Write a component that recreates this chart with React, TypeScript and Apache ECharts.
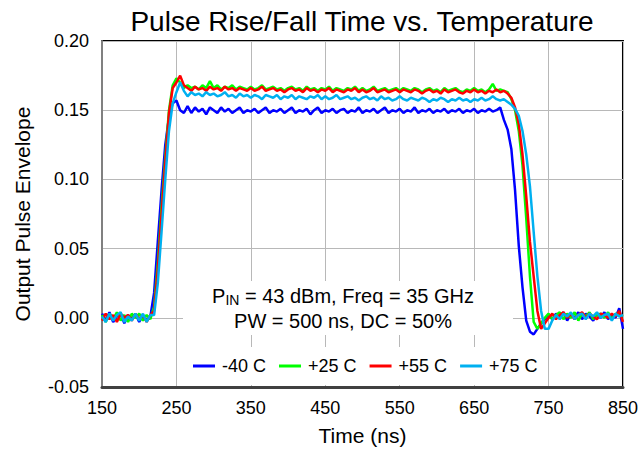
import React, { useEffect, useRef } from "react";
import * as echarts from "echarts";

const TIME = [
  150, 155, 160, 165, 170, 175, 180, 185, 190, 195,
  200, 205, 210, 215, 220, 225, 230, 235, 240, 245,
  250, 255, 260, 265, 270, 275, 280, 285, 290, 295,
  300, 305, 310, 315, 320, 325, 330, 335, 340, 345,
  350, 355, 360, 365, 370, 375, 380, 385, 390, 395,
  400, 405, 410, 415, 420, 425, 430, 435, 440, 445,
  450, 455, 460, 465, 470, 475, 480, 485, 490, 495,
  500, 505, 510, 515, 520, 525, 530, 535, 540, 545,
  550, 555, 560, 565, 570, 575, 580, 585, 590, 595,
  600, 605, 610, 615, 620, 625, 630, 635, 640, 645,
  650, 655, 660, 665, 670, 675, 680, 685, 690, 695,
  700, 705, 710, 715, 720, 725, 730, 735, 740, 745,
  750, 755, 760, 765, 770, 775, 780, 785, 790, 795,
  800, 805, 810, 815, 820, 825, 830, 835, 840, 845,
  850,
];

const M40C = [
  0.003, -0.002, 0.004, -0.003, 0.001, 0.003, -0.004, 0.002, -0.001, 0.003,
  -0.003, 0.002, -0.002, 0.001, 0.018, 0.055, 0.092, 0.125, 0.145, 0.155,
  0.157, 0.150, 0.148, 0.153, 0.148, 0.152, 0.149, 0.151, 0.147, 0.152,
  0.150, 0.148, 0.152, 0.149, 0.151, 0.148, 0.150, 0.152, 0.148, 0.150,
  0.149, 0.151, 0.148, 0.150, 0.152, 0.148, 0.150, 0.149, 0.151, 0.148,
  0.150, 0.152, 0.148, 0.150, 0.149, 0.151, 0.147, 0.150, 0.152, 0.148,
  0.150, 0.149, 0.151, 0.148, 0.150, 0.151, 0.148, 0.150, 0.149, 0.152,
  0.148, 0.150, 0.149, 0.151, 0.148, 0.150, 0.152, 0.148, 0.150, 0.149,
  0.151, 0.148, 0.150, 0.149, 0.152, 0.148, 0.150, 0.149, 0.151, 0.148,
  0.150, 0.149, 0.151, 0.148, 0.150, 0.149, 0.151, 0.148, 0.150, 0.149,
  0.151, 0.148, 0.150, 0.149, 0.151, 0.149, 0.150, 0.152, 0.143, 0.136,
  0.122, 0.092, 0.052, 0.022, -0.002, -0.010, -0.012, -0.008, -0.004, -0.001,
  0.002, -0.001, 0.003, 0.000, 0.004, -0.002, 0.003, 0.000, 0.004, -0.001,
  0.003, 0.001, -0.002, 0.003, 0.000, 0.004, -0.001, 0.002, 0.000, 0.007,
  -0.008,
];

const P25C = [
  0.002, -0.003, 0.003, -0.001, 0.004, -0.002, 0.002, -0.003, 0.003, 0.000,
  0.003, -0.002, 0.002, -0.001, 0.008, 0.040, 0.080, 0.116, 0.150, 0.168,
  0.173, 0.170, 0.166, 0.168, 0.166, 0.167, 0.165, 0.168, 0.166, 0.171,
  0.166, 0.168, 0.165, 0.167, 0.166, 0.168, 0.165, 0.167, 0.166, 0.165,
  0.167, 0.165, 0.166, 0.168, 0.165, 0.166, 0.167, 0.165, 0.166, 0.164,
  0.166, 0.167, 0.165, 0.166, 0.164, 0.167, 0.165, 0.166, 0.164, 0.166,
  0.165, 0.167, 0.164, 0.166, 0.165, 0.164, 0.166, 0.165, 0.167, 0.164,
  0.166, 0.164, 0.165, 0.167, 0.164, 0.165, 0.166, 0.164, 0.165, 0.166,
  0.164, 0.166, 0.165, 0.164, 0.166, 0.165, 0.163, 0.165, 0.166, 0.164,
  0.165, 0.163, 0.166, 0.164, 0.165, 0.166, 0.164, 0.163, 0.165, 0.164,
  0.166, 0.164, 0.165, 0.163, 0.165, 0.169, 0.164, 0.165, 0.164, 0.163,
  0.158, 0.150, 0.135, 0.110, 0.072, 0.030, -0.003, -0.008, -0.004, 0.000,
  0.003, -0.001, 0.002, 0.004, -0.001, 0.003, 0.000, 0.004, -0.002, 0.003,
  0.001, 0.004, -0.001, 0.002, 0.003, 0.000, 0.004, -0.001, 0.003, 0.002,
  0.001,
];

const P55C = [
  -0.002, 0.003, -0.001, 0.002, -0.003, 0.003, 0.000, 0.002, -0.002, 0.003,
  -0.001, 0.002, -0.003, 0.002, 0.005, 0.035, 0.075, 0.112, 0.148, 0.166,
  0.170, 0.175, 0.168, 0.166, 0.164, 0.167, 0.165, 0.166, 0.164, 0.167,
  0.165, 0.166, 0.164, 0.167, 0.165, 0.166, 0.164, 0.166, 0.165, 0.164,
  0.166, 0.164, 0.165, 0.167, 0.164, 0.165, 0.166, 0.164, 0.165, 0.163,
  0.165, 0.166, 0.164, 0.165, 0.163, 0.166, 0.164, 0.165, 0.163, 0.165,
  0.164, 0.166, 0.163, 0.165, 0.164, 0.163, 0.165, 0.164, 0.166, 0.163,
  0.165, 0.163, 0.164, 0.166, 0.163, 0.164, 0.165, 0.163, 0.164, 0.165,
  0.163, 0.165, 0.164, 0.163, 0.165, 0.164, 0.162, 0.164, 0.165, 0.163,
  0.164, 0.162, 0.165, 0.163, 0.164, 0.165, 0.163, 0.162, 0.164, 0.163,
  0.165, 0.163, 0.164, 0.162, 0.164, 0.163, 0.165, 0.163, 0.164, 0.162,
  0.159, 0.152, 0.140, 0.118, 0.088, 0.055, 0.030, 0.005, -0.008, -0.004,
  0.000, 0.003, -0.001, 0.002, 0.004, 0.000, 0.003, -0.001, 0.002, 0.004,
  0.000, 0.003, 0.001, -0.001, 0.003, 0.002, 0.000, 0.003, 0.001, 0.005,
  -0.003,
];

const P75C = [
  0.001, -0.003, 0.003, -0.002, 0.002, 0.004, -0.003, 0.001, -0.002, 0.003,
  -0.002, 0.003, -0.003, 0.002, 0.002, 0.025, 0.062, 0.100, 0.135, 0.155,
  0.163, 0.170, 0.164, 0.160, 0.163, 0.161, 0.162, 0.160, 0.163, 0.161,
  0.162, 0.160, 0.161, 0.163, 0.160, 0.161, 0.159, 0.162, 0.160, 0.161,
  0.159, 0.161, 0.160, 0.158, 0.161, 0.160, 0.159, 0.161, 0.158, 0.160,
  0.159, 0.161, 0.158, 0.160, 0.159, 0.158, 0.160, 0.159, 0.161, 0.158,
  0.160, 0.158, 0.159, 0.161, 0.158, 0.159, 0.160, 0.158, 0.159, 0.157,
  0.159, 0.160, 0.158, 0.159, 0.157, 0.160, 0.158, 0.159, 0.157, 0.158,
  0.160, 0.158, 0.157, 0.159, 0.158, 0.157, 0.159, 0.158, 0.156, 0.158,
  0.157, 0.159, 0.158, 0.156, 0.158, 0.157, 0.159, 0.157, 0.158, 0.156,
  0.158, 0.157, 0.159, 0.157, 0.158, 0.160, 0.158, 0.157, 0.158, 0.156,
  0.154, 0.151, 0.146, 0.135, 0.118, 0.095, 0.062, 0.030, 0.005, -0.008,
  -0.008, -0.002, 0.002, -0.001, 0.003, 0.001, 0.004, -0.001, 0.002, 0.003,
  -0.001, 0.003, 0.001, 0.004, 0.000, 0.002, 0.003, -0.002, 0.003, 0.001,
  0.002,
];

const SERIES_NAMES = ["-40 C", "+25 C", "+55 C", "+75 C"];
const SERIES_VALUES = [M40C, P25C, P55C, P75C];
const SERIES_COLORS = ["#0000FF", "#00FF00", "#FF0000", "#00B0F0"];

const TITLE = "Pulse Rise/Fall Time vs. Temperature";
const X_NAME = "Time (ns)";
const Y_NAME = "Output Pulse Envelope";

const FONT = "'Liberation Sans', Arial, Helvetica, sans-serif";

export default function App() {
  const ref = useRef<HTMLDivElement>(null);

  useEffect(() => {
    if (!ref.current) return;
    const chart = echarts.init(ref.current, null, { renderer: "svg" });

    const series = SERIES_NAMES.map((name, k) => ({
      name,
      type: "line",
      data: TIME.map((t, i) => [t, SERIES_VALUES[k][i]]),
      showSymbol: false,
      symbol: "none",
      lineStyle: { color: SERIES_COLORS[k], width: 2.5 },
      itemStyle: { color: SERIES_COLORS[k] },
      z: 2,
    }));

    const option = {
      animation: false,
      backgroundColor: "#ffffff",
      textStyle: { fontFamily: FONT },
      grid: {
        left: 102,
        right: 18,
        top: 41,
        bottom: 64,
        show: true,
        borderColor: "#000000",
        borderWidth: 2,
        backgroundColor: "transparent",
      },
      xAxis: {
        type: "value",
        min: 150,
        max: 850,
        interval: 100,
        name: X_NAME,
        nameLocation: "middle",
        nameGap: 38,
        nameTextStyle: { fontSize: 21, color: "#000", fontFamily: FONT },
        axisLine: { show: true, onZero: false, lineStyle: { color: "#404040", width: 3 } },
        axisTick: { show: false },
        axisLabel: { fontSize: 18, color: "#000", margin: 12, fontFamily: FONT },
        splitLine: { show: true, lineStyle: { color: "#b8b8b8", width: 1 } },
      },
      yAxis: {
        type: "value",
        min: -0.05,
        max: 0.2,
        interval: 0.05,
        name: Y_NAME,
        nameLocation: "middle",
        nameGap: 69,
        nameTextStyle: { fontSize: 21, color: "#000", fontFamily: FONT },
        axisLine: { show: true, onZero: false, lineStyle: { color: "#808080", width: 2 } },
        axisTick: { show: false },
        axisLabel: {
          fontSize: 18,
          color: "#000",
          margin: 13,
          fontFamily: FONT,
          formatter: (v: number) => v.toFixed(2),
        },
        splitLine: { show: true, lineStyle: { color: "#b8b8b8", width: 1 } },
      },
      legend: {
        data: SERIES_NAMES,
        left: 193,
        top: 357,
        padding: 0,
        itemWidth: 22,
        itemHeight: 3,
        itemGap: 13,
        icon: "rect",
        textStyle: { fontSize: 18, color: "#000", fontFamily: FONT, padding: [0, 0, 0, 2] },
        z: 6,
      },
      graphic: [
        {
          type: "rect",
          z: 1,
          shape: { x: 183, y: 281, width: 330, height: 54 },
          style: { fill: "#ffffff" },
          silent: true,
        },
        {
          type: "rect",
          z: 1,
          shape: { x: 185, y: 347, width: 360, height: 38 },
          style: { fill: "#ffffff" },
          silent: true,
        },
        {
          type: "text",
          z: 10,
          x: 362,
          y: 21,
          style: {
            text: TITLE,
            font: `28px ${FONT}`,
            fill: "#000",
            textAlign: "center",
            textVerticalAlign: "middle",
            align: "center",
            verticalAlign: "middle",
          },
        },
        {
          type: "text",
          z: 10,
          x: 343,
          y: 296,
          style: {
            text: "{a|P}{s|IN}{a| = 43 dBm, Freq = 35 GHz}",
            fill: "#000",
            textAlign: "center",
            textVerticalAlign: "middle",
            align: "center",
            verticalAlign: "middle",
            rich: {
              a: { fontSize: 20, fontFamily: FONT, color: "#000", lineHeight: 22 },
              s: { fontSize: 14, fontFamily: FONT, color: "#000", lineHeight: 22, verticalAlign: "bottom" },
            },
          },
        },
        {
          type: "text",
          z: 10,
          x: 343,
          y: 321,
          style: {
            text: "PW = 500 ns, DC = 50%",
            font: `20px ${FONT}`,
            fill: "#000",
            textAlign: "center",
            textVerticalAlign: "middle",
            align: "center",
            verticalAlign: "middle",
          },
        },
      ],
      series,
    };

    chart.setOption(option as any);
    return () => chart.dispose();
  }, []);

  return (
    <div
      ref={ref}
      style={{ position: "fixed", left: 0, top: 0, width: 641, height: 451 }}
    />
  );
}
